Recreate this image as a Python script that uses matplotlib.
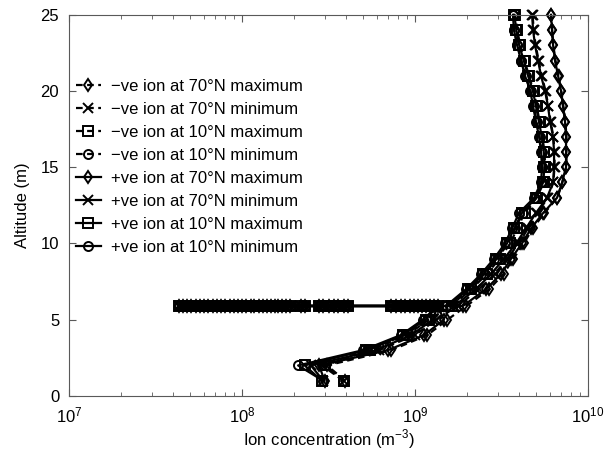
import numpy as np
import matplotlib
matplotlib.use("Agg")
import matplotlib.pyplot as plt

plt.rcParams['font.family'] = ['Liberation Sans', 'DejaVu Sans']
plt.rcParams['mathtext.fontset'] = 'custom'
plt.rcParams['mathtext.rm'] = 'Liberation Sans'

# altitude levels (m)
alt = [1, 2, 3, 4, 5, 5.9, 7, 8, 9, 10, 11, 12, 13, 14, 15, 16, 17, 18, 19, 20, 21, 22, 23, 24, 25]

# negative ions
neg_70_max = [3.95e8, 3.1e8, 7.3e8, 1.18e9, 1.54e9, 1.98e9, 2.68e9, 3.25e9, 3.7e9, 4.25e9, 4.8e9, 5.6e9, 6.65e9,
              7.1e9, 7.5e9, 7.5e9, 7.5e9, 7.4e9, 7.2e9, 7.0e9, 6.75e9, 6.48e9, 6.3e9, 6.2e9, 6.12e9]
neg_70_min = [3.9e8, 3.05e8, 6.2e8, 1.0e9, 1.33e9, 1.76e9, 2.35e9, 2.88e9, 3.4e9, 3.98e9, 4.5e9, 5.1e9, 5.85e9,
              6.3e9, 6.4e9, 6.4e9, 6.3e9, 6.08e9, 5.9e9, 5.68e9, 5.4e9, 5.18e9, 4.98e9, 4.85e9, 4.78e9]
neg_10_max = [3.9e8, 3.0e8, 5.5e8, 9.0e8, 1.2e9, 1.63e9, 2.12e9, 2.6e9, 3.08e9, 3.55e9, 3.9e9, 4.3e9, 5.05e9,
              5.55e9, 5.65e9, 5.6e9, 5.45e9, 5.25e9, 5.05e9, 4.85e9, 4.55e9, 4.3e9, 4.05e9, 3.9e9, 3.78e9]
neg_10_min = [3.85e8, 2.9e8, 5.3e8, 8.8e8, 1.17e9, 1.6e9, 2.07e9, 2.52e9, 2.98e9, 3.45e9, 3.8e9, 4.2e9, 4.95e9,
              5.4e9, 5.45e9, 5.4e9, 5.25e9, 5.05e9, 4.85e9, 4.65e9, 4.35e9, 4.12e9, 3.9e9, 3.75e9, 3.7e9]

# positive ions
pos_70_max = [3.0e8, 2.79e8, 6.98e8, 1.13e9, 1.47e9, 1.89e9, 2.57e9, 3.14e9, 3.59e9, 4.15e9, 4.69e9, 5.5e9, 6.62e9,
              7.08e9, 7.46e9, 7.46e9, 7.46e9, 7.36e9, 7.16e9, 6.98e9, 6.71e9, 6.44e9, 6.28e9, 6.19e9, 6.11e9]
pos_70_min = [2.95e8, 2.5e8, 5.95e8, 9.5e8, 1.27e9, 1.68e9, 2.25e9, 2.75e9, 3.27e9, 3.84e9, 4.38e9, 5.0e9, 5.79e9,
              6.28e9, 6.36e9, 6.36e9, 6.28e9, 6.03e9, 5.87e9, 5.64e9, 5.35e9, 5.14e9, 4.94e9, 4.81e9, 4.75e9]
pos_10_max = [2.9e8, 2.3e8, 5.2e8, 8.5e8, 1.15e9, 1.55e9, 2.02e9, 2.48e9, 2.95e9, 3.4e9, 3.75e9, 4.15e9, 5.0e9,
              5.5e9, 5.6e9, 5.55e9, 5.4e9, 5.2e9, 5.0e9, 4.8e9, 4.5e9, 4.25e9, 4.0e9, 3.85e9, 3.75e9]
pos_10_min = [2.94e8, 2.11e8, 5.0e8, 8.3e8, 1.11e9, 1.51e9, 1.97e9, 2.41e9, 2.86e9, 3.31e9, 3.64e9, 3.99e9, 4.88e9,
              5.35e9, 5.42e9, 5.35e9, 5.21e9, 5.0e9, 4.81e9, 4.64e9, 4.32e9, 4.10e9, 3.89e9, 3.73e9, 3.68e9]

# excursion of the positive-ion profiles at ~5.9 m
spike_alt = 5.9
spike = [1.35e9, 1.28e9, 1.22e9, 1.15e9, 1.1e9, 1.04e9, 9.8e8, 9.3e8, 8.8e8, 8.3e8, 7.8e8, 7.3e8,
         4.1e8, 3.9e8, 3.6e8, 3.4e8, 3.2e8, 2.95e8, 2.8e8, 2.3e8, 2.2e8,
         1.9e8, 1.8e8, 1.7e8, 1.62e8, 1.55e8, 1.47e8, 1.4e8, 1.32e8, 1.25e8, 1.18e8, 1.12e8, 1.06e8,
         1.0e8, 9.5e7, 9.0e7, 8.5e7, 8.0e7, 7.6e7, 7.2e7, 6.8e7, 6.4e7, 6.0e7, 5.7e7, 5.4e7, 5.1e7,
         4.8e7, 4.55e7, 4.3e7]

labels = ['\u2212ve ion at 70\u00b0N maximum', '\u2212ve ion at 70\u00b0N minimum',
          '\u2212ve ion at 10\u00b0N maximum', '\u2212ve ion at 10\u00b0N minimum',
          '+ve ion at 70\u00b0N maximum', '+ve ion at 70\u00b0N minimum',
          '+ve ion at 10\u00b0N maximum', '+ve ion at 10\u00b0N minimum']

fig = plt.figure(figsize=(6.05, 4.62), dpi=100)
ax = fig.add_axes([0.114, 0.143, 0.858, 0.825])

neg = [neg_70_max, neg_70_min, neg_10_max, neg_10_min]
pos = [pos_70_max, pos_70_min, pos_10_max, pos_10_min]
markers = ['d', 'x', 's', 'o']

for i, x in enumerate(neg):
    ax.plot(x, alt, ls='--', color='k', lw=1.6, marker=markers[i], ms=6.5, mfc='none',
            mec='k', mew=1.4, label=labels[i], dashes=(3, 2), clip_on=False)

k = alt.index(spike_alt)
for i, x in enumerate(pos):
    xs = x[:k] + spike + x[k:]
    ys = alt[:k] + [spike_alt] * len(spike) + alt[k:]
    ax.plot(xs, ys, ls='-', color='k', lw=1.6, marker=markers[i], ms=6.5, mfc='none',
            mec='k', mew=1.4, label=labels[4 + i], clip_on=False)

ax.set_xscale('log')
ax.set_xlim(1e7, 1e10)
ax.set_ylim(0, 25)
ax.set_yticks([0, 5, 10, 15, 20, 25])
for s in ax.spines.values():
    s.set_color('0.35')
ax.tick_params(which='both', direction='in', top=True, right=True, labelsize=12, color='0.35')
ax.tick_params(axis='x', which='major', length=5, pad=7)
ax.tick_params(axis='y', which='major', length=5, pad=7)
ax.tick_params(which='minor', length=3)
ax.set_xlabel('Ion concentration (m$^{-3}$)', fontsize=12, labelpad=1)
ax.set_ylabel('Altitude (m)', fontsize=12, labelpad=8)

ax.legend(loc='upper left', bbox_to_anchor=(0.0, 0.85), frameon=False, fontsize=12,
          handlelength=1.5, labelspacing=0.48, borderaxespad=0.2, handletextpad=0.6,
          borderpad=0.2)

fig.savefig('out.png', dpi=100)
